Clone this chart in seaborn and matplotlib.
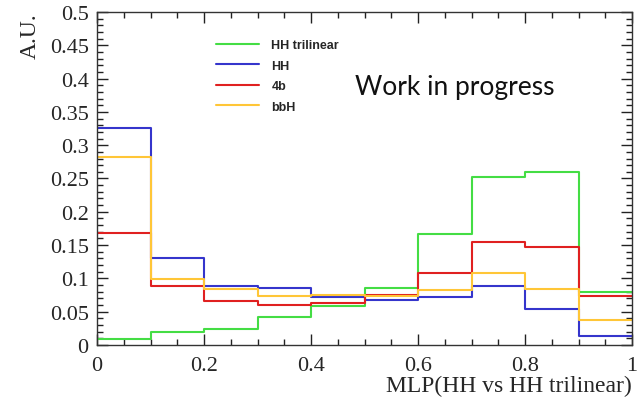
import numpy as np
import pandas as pd
import matplotlib
matplotlib.use("Agg")
import matplotlib.pyplot as plt
from matplotlib.ticker import MultipleLocator
from matplotlib.lines import Line2D
import seaborn as sns

# Normalised MLP output distributions, 10 bins over [0, 1]
bin_edges = [0.0, 0.1, 0.2, 0.3, 0.4, 0.5, 0.6, 0.7, 0.8, 0.9, 1.0]
hh_trilinear = [0.009, 0.020, 0.024, 0.042, 0.058, 0.085, 0.167, 0.253, 0.260, 0.079]
hh = [0.326, 0.131, 0.089, 0.085, 0.072, 0.068, 0.072, 0.089, 0.054, 0.014]
four_b = [0.168, 0.089, 0.066, 0.060, 0.063, 0.075, 0.108, 0.154, 0.147, 0.074]
bbh = [0.282, 0.099, 0.084, 0.074, 0.075, 0.073, 0.082, 0.108, 0.084, 0.037]

sample_names = ["HH trilinear", "HH", "4b", "bbH"]
sample_colors = ["#44dd44", "#3535cc", "#e02020", "#ffc637"]

centers = [(a + b) / 2 for a, b in zip(bin_edges[:-1], bin_edges[1:])]
frames = []
for name, vals in zip(sample_names, [hh_trilinear, hh, four_b, bbh]):
    frames.append(pd.DataFrame({"mlp": centers, "weight": vals, "sample": name}))
df = pd.concat(frames, ignore_index=True)

sns.set_style("ticks")
plt.rcParams["font.family"] = ["Liberation Serif", "DejaVu Serif"]

fig = plt.figure(figsize=(6.37, 4.06), dpi=100)
ax = fig.add_axes([97 / 637, 60 / 406, 535 / 637, 333 / 406])

for name, color in zip(sample_names, sample_colors):
    sub = df[df["sample"] == name]
    sns.histplot(data=sub, x="mlp", weights="weight", bins=bin_edges,
                 element="step", fill=False, color=color, linewidth=1.5,
                 ax=ax)

ax.set_xlim(0, 1)
ax.set_ylim(0, 0.5)
ax.xaxis.set_major_locator(MultipleLocator(0.2))
ax.xaxis.set_minor_locator(MultipleLocator(0.05))
ax.yaxis.set_major_locator(MultipleLocator(0.05))
ax.yaxis.set_minor_locator(MultipleLocator(0.01))
ax.xaxis.set_major_formatter(matplotlib.ticker.FuncFormatter(
    lambda v, p: "0" if abs(v) < 1e-9 else ("1" if abs(v - 1) < 1e-9 else f"{v:g}")))
ax.yaxis.set_major_formatter(matplotlib.ticker.FuncFormatter(
    lambda v, p: "0" if abs(v) < 1e-9 else f"{v:g}"))

ax.tick_params(which="both", direction="in", top=True, right=True,
               color="#222222", labelsize=16)
ax.tick_params(which="major", length=8, width=1.0)
ax.tick_params(which="minor", length=4, width=1.0)
ax.tick_params(axis="y", pad=6)
ax.tick_params(axis="x", pad=8)
for s in ax.spines.values():
    s.set_linewidth(1.0)
    s.set_color("#333333")

ax.set_xlabel("MLP(HH vs HH trilinear)", fontsize=17, loc="right")
ax.set_ylabel("A.U.", fontsize=17, loc="top")
ax.xaxis.set_label_coords(1.0, -0.09)
ax.yaxis.set_label_coords(-0.105, 1.0)

handles = [Line2D([], [], color=c, linewidth=1.5) for c in sample_colors]
leg = ax.legend(handles, sample_names, loc="upper left",
                bbox_to_anchor=(205 / 637, 1 - 29 / 406),
                bbox_transform=fig.transFigure, frameon=False,
                prop={"family": "Liberation Sans", "weight": "bold", "size": 9},
                handlelength=3.4, handletextpad=1.0, labelspacing=0.68)

ax.text(0.483, 0.775, "Work in progress", transform=ax.transAxes,
        fontsize=19, family="Lato", ha="left", va="center", color="#111111")

fig.savefig("out.png", dpi=100)
